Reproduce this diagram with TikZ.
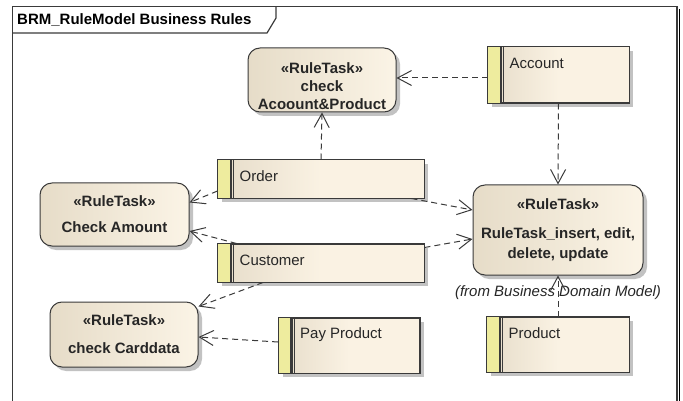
\documentclass[tikz,border=0pt]{standalone}
\usepackage{fontspec}
\setmainfont{Liberation Sans}
\usetikzlibrary{arrows.meta,shadows}

\definecolor{edge}{HTML}{3A3A3A}
\definecolor{taskL}{HTML}{E6DCC8}
\definecolor{taskR}{HTML}{FBF4E6}
\definecolor{clsL}{HTML}{E6DCC9}
\definecolor{clsR}{HTML}{FAF2E3}
\definecolor{stripe}{HTML}{EEEC9E}
\definecolor{shade}{HTML}{C2C2C2}

\tikzset{
  frameline/.style={draw=edge, line width=1.2pt},
  boxshadow/.style={drop shadow={shadow xshift=4pt, shadow yshift=-4pt, fill=shade, opacity=1}},
  task/.style={draw=edge, line width=1pt, rounded corners=12pt,
    left color=taskL, right color=taskR, boxshadow, inner sep=0pt,
    align=center, text=black!85, font=\bfseries\fontsize{15}{18}\selectfont},
  tasktext/.style={align=center, inner sep=0pt, text=black!85,
    font=\bfseries\fontsize{15}{18}\selectfont},
  cls/.style={draw=edge, line width=1pt, left color=clsL, right color=clsR,
    middle color=clsR, boxshadow, inner sep=0pt},
  clstext/.style={anchor=west, inner sep=0pt, text=black!85,
    font=\fontsize{15}{18}\selectfont},
  dep/.style={draw=edge, line width=1pt, dash pattern=on 6pt off 4pt,
    -{Straight Barb[length=14pt,width=15pt]}},
}

% class box: name, centre x, centre y, width, height, caption
\newcommand\classbox[6]{%
  \node[cls, minimum width=#4pt, minimum height=#5pt] (#1) at (#2,#3) {};
  \fill[stripe] (#1.north west) rectangle ([xshift=12pt]#1.south west);
  \draw[edge, line width=2.6pt] ([xshift=13.5pt]#1.north west) -- ([xshift=13.5pt]#1.south west);
  \draw[edge, line width=0.8pt] ([xshift=16.2pt]#1.north west) -- ([xshift=16.2pt]#1.south west);
  \draw[edge, line width=1pt] (#1.north west) rectangle (#1.south east);
  \node[clstext] (#1-name) at ([xshift=22pt,yshift=-17pt]#1.north west) {#6};
}

\begin{document}
\begin{tikzpicture}[x=1pt, y=-1pt]
\useasboundingbox (0,0) rectangle (683,401);

% diagram frame with its name tab
\draw[shade, line width=1.5pt] (679.5,9) -- (679.5,401);
\draw[frameline] (12.5,401) -- (12.5,6.5) -- (677,6.5) -- (677,401);
\draw[frameline] (12.5,33) -- (267,33) -- (276,18) -- (276,6.5);
\node[anchor=west, inner sep=0pt, font=\bfseries\fontsize{15}{18}\selectfont] (title)
  at (17,20) {BRM\_RuleModel Business Rules};

% rule tasks
\node[task, minimum width=148pt, minimum height=64pt] (checkAP) at (322,80) {};
\node[tasktext] (checkAP-text) at (322,86) {«RuleTask»\\check\\Acoount\&Product};

\node[task, minimum width=149pt, minimum height=63pt] (ckAmt) at (114.5,214.5)
  {«RuleTask»\\[8pt]Check Amount};

\node[task, minimum width=148pt, minimum height=65pt] (carddata) at (124,334.5)
  {«RuleTask»\\[10pt]check Carddata};

\node[task, minimum width=170pt, minimum height=90pt] (insert) at (558,230)
  {«RuleTask»\\[11pt]RuleTask\_insert, edit,\\[2pt]delete, update};
\node[inner sep=0pt, text=black!85, font=\itshape\fontsize{15}{18}\selectfont] (origin)
  at (558,293) {(from Business Domain Model)};

% classes
\classbox{account}{558.5}{75}{141}{56}{Account}
\classbox{order}{321}{179}{206}{38}{Order}
\classbox{customer}{321}{263}{206}{38}{Customer}
\classbox{pay}{349}{345.5}{141}{55}{Pay Product}
\classbox{product}{558}{344.5}{142}{55}{Product}

% dependencies
\draw[dep] ([yshift=-3pt]account.west) -- ([yshift=2pt]checkAP.east);
\draw[dep] (account.south) -- (insert.north);
\draw[dep] (order.north) -- (checkAP.south);
\draw[dep] ([yshift=-12pt]order.west) -- ([yshift=12pt]ckAmt.east);
\draw[dep] ([xshift=-13pt]order.south east) -- ([yshift=20pt]insert.west);
\draw[dep] ([xshift=19pt]customer.north west) -- ([yshift=-16.5pt]ckAmt.east);
\draw[dep] ([yshift=-4pt]customer.north east) -- ([yshift=-9pt]insert.west);
\draw[dep] ([xshift=-58pt]customer.south) -- ([yshift=-5pt]carddata.north east);
\draw[dep] ([yshift=3.5pt]pay.west) -- ([yshift=-2.5pt]carddata.east);
\draw[dep] (product.north) -- (insert.south);
\end{tikzpicture}
\end{document}
